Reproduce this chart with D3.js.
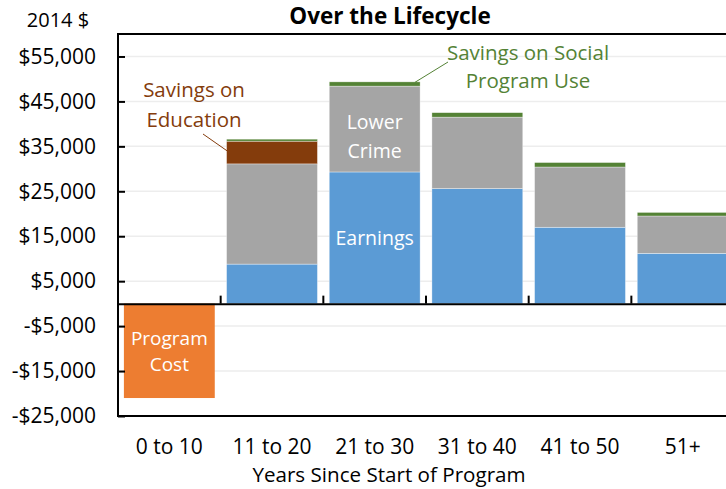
<!DOCTYPE html>
<html>
<head>
<meta charset="utf-8">
<script src="https://cdn.jsdelivr.net/npm/d3@7"></script>
<style>
  html, body { margin: 0; padding: 0; background: #fff; }
  svg { display: block; }
  text { font-family: "Open Sans", "Noto Sans", sans-serif; }
</style>
</head>
<body>
<svg id="chart" width="726" height="489"></svg>
<script>
const categories = ["0 to 10", "11 to 20", "21 to 30", "31 to 40", "41 to 50", "51+"];
const programCost = [-21000, 0, 0, 0, 0, 0];
const earnings = [0, 8800, 29300, 25600, 17000, 11200];
const lowerCrime = [0, 22300, 19100, 15900, 13400, 8300];
const educationSavings = [0, 5050, 0, 0, 0, 0];
const socialProgramSavings = [0, 450, 950, 1000, 1000, 800];
const yTicks = [55000, 45000, 35000, 25000, 15000, 5000, -5000, -15000, -25000];

const seriesNames = ["Earnings", "Lower Crime", "Savings on Education", "Savings on Social Program Use"];
const seriesValues = [earnings, lowerCrime, educationSavings, socialProgramSavings];
const seriesColors = ["#5B9BD5", "#A5A5A5", "#843C0C", "#548235"];

const svg = d3.select("#chart");
const pLeft = 118, pTop = 34, pBottom = 416;
const step = 102.67;
const pRight = pLeft + categories.length * step;

const x = d3.scaleBand().domain(categories).range([pLeft, pRight]).paddingInner(0.115).paddingOuter(0.0575);
const y = d3.scaleLinear().domain([-25000, 60000]).range([pBottom, pTop]);

const fmt = d3.format(",");
const money = v => (v < 0 ? "-$" : "$") + fmt(Math.abs(v));

// gridlines
svg.append("g").selectAll("line").data(yTicks.filter(t => t > -25000)).join("line")
  .attr("x1", pLeft).attr("x2", 726)
  .attr("y1", d => y(d)).attr("y2", d => y(d))
  .attr("stroke", "#EDEDED").attr("stroke-width", 1.5);

// stacked bars
const stackData = categories.map((c, i) => {
  const o = { cat: c };
  seriesNames.forEach((s, j) => o[s] = seriesValues[j][i]);
  return o;
});
const stacked = d3.stack().keys(seriesNames)(stackData);
svg.append("g").selectAll("g").data(stacked).join("g")
  .attr("fill", (d, i) => seriesColors[i])
  .selectAll("rect").data(d => d.filter(p => p[1] - p[0] > 0)).join("rect")
  .attr("x", d => x(d.data.cat))
  .attr("width", x.bandwidth())
  .attr("y", d => y(d[1]))
  .attr("height", d => y(d[0]) - y(d[1]))
  .attr("stroke", "#ffffff").attr("stroke-width", 0.6).attr("stroke-opacity", 0.6);

// program cost
svg.append("g").selectAll("rect").data(categories.map((c, i) => ({ c, v: programCost[i] })).filter(d => d.v < 0)).join("rect")
  .attr("x", d => x(d.c)).attr("width", x.bandwidth())
  .attr("y", y(0)).attr("height", d => y(d.v) - y(0))
  .attr("fill", "#ED7D31");

// plot frame
svg.append("rect").attr("x", pLeft).attr("y", pTop).attr("width", pRight - pLeft + 10).attr("height", pBottom - pTop)
  .attr("fill", "none").attr("stroke", "#000").attr("stroke-width", 2);

// y axis ticks (inside)
const yAxis = d3.axisLeft(y).tickValues(yTicks).tickFormat(money).tickSize(-7).tickPadding(22);
const gy = svg.append("g").attr("transform", `translate(${pLeft},0)`).call(yAxis);
gy.select(".domain").remove();
gy.selectAll(".tick line").attr("stroke", "#000").attr("stroke-width", 2);
gy.selectAll(".tick text").attr("font-size", 21).attr("fill", "#000").attr("x", -22)
  .style("font-family", "'Open Sans', sans-serif");

// zero axis with category ticks
const xAxis = d3.axisBottom(x).tickSize(0).tickFormat("");
const gx = svg.append("g").attr("transform", `translate(0,${y(0)})`).call(xAxis);
gx.select(".domain").attr("stroke", "#000").attr("stroke-width", 2);
gx.selectAll(".tick").remove();
svg.append("g").selectAll("line").data(categories.slice(1)).join("line")
  .attr("x1", d => x(d) - x.step() * x.paddingInner() / 2)
  .attr("x2", d => x(d) - x.step() * x.paddingInner() / 2)
  .attr("y1", y(0)).attr("y2", y(0) - 8)
  .attr("stroke", "#000").attr("stroke-width", 2);

// category labels
svg.append("g").selectAll("text").data(categories).join("text")
  .attr("x", d => x(d) + x.bandwidth() / 2).attr("y", 454)
  .attr("text-anchor", "middle").attr("font-size", 21).attr("fill", "#000").text(d => d);

// titles
svg.append("text").attr("x", 390).attr("y", 24).attr("text-anchor", "middle")
  .attr("font-size", 22.5).attr("font-weight", "bold").attr("fill", "#000").text("Over the Lifecycle");
svg.append("text").attr("x", 58).attr("y", 27).attr("text-anchor", "middle")
  .attr("font-size", 20).attr("fill", "#000").text("2014 $");
svg.append("text").attr("x", 389).attr("y", 482).attr("text-anchor", "middle")
  .attr("font-size", 20.6).attr("fill", "#000").text("Years Since Start of Program");
svg.append("text").attr("x", 26).attr("y", 501)
  .attr("font-size", 16).attr("fill", "#000").text("Notes: CBA estimates based on Heckman et al. (2010) using a discount rate of 3%.");

// in-bar labels
const mid = c => x(c) + x.bandwidth() / 2;
function label(lines, cx, y0, dy, color, size) {
  const t = svg.append("text").attr("text-anchor", "middle").attr("font-size", size).attr("fill", color);
  lines.forEach((l, i) => t.append("tspan").attr("x", cx).attr("y", y0 + i * dy).text(l));
}
label(["Program", "Cost"], mid(categories[0]), 345, 26, "#fff", 19);
label(["Lower", "Crime"], mid(categories[2]), 129, 29, "#fff", 19.5);
label(["Earnings"], mid(categories[2]), 245, 0, "#fff", 19.5);
label(["Savings on", "Education"], 194, 97, 30, "#843C0C", 20.5);
label(["Savings on Social", "Program Use"], 528, 60, 28, "#548235", 20.5);

// leader lines
svg.append("line").attr("x1", 203).attr("y1", 134).attr("x2", x(categories[1]) + 1).attr("y2", y(36150) + 10)
  .attr("stroke", "#843C0C").attr("stroke-width", 1);
svg.append("line").attr("x1", 415).attr("y1", y(49250)).attr("x2", 448).attr("y2", 62)
  .attr("stroke", "#548235").attr("stroke-width", 1);
</script>
</body>
</html>
